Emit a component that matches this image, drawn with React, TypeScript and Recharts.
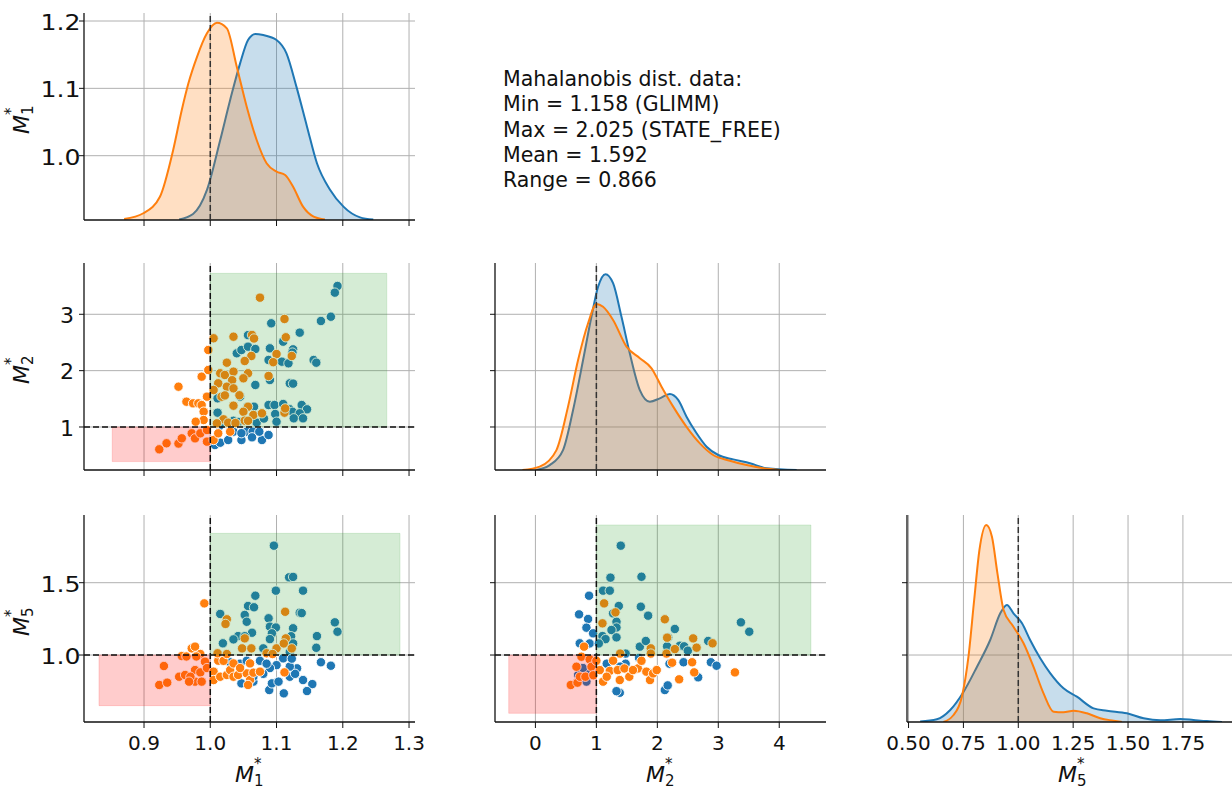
import React from 'react';
import {
  ScatterChart, Scatter, ComposedChart, Area, XAxis, YAxis, CartesianGrid,
  ReferenceLine, ReferenceArea,
} from 'recharts';

const BLUE = '#1f77b4';
const ORANGE = '#ff7f0e';
const GREEN = '#2ca02c';
const RED = '#ff0000';

// axis ticks for each metric
const m1Ticks = [0.9, 1.0, 1.1, 1.2, 1.3];
const m1RowTicks = [1.0, 1.1, 1.2];
const m2Ticks = [0, 1, 2, 3, 4];
const m2RowTicks = [1, 2, 3];
const m5Ticks = [0.5, 0.75, 1.0, 1.25, 1.5, 1.75];
const m5RowTicks = [1.0, 1.5];

// axis limits
const m1X: [number, number] = [0.8094, 1.309];
const m2X: [number, number] = [-0.663, 4.767];
const m5X: [number, number] = [0.493, 2.001];
const m1Y: [number, number] = [0.9045, 1.2119];
const m2Y: [number, number] = [0.237, 3.91];
const m5Y: [number, number] = [0.537, 1.968];

// kernel density estimates, [value, density]
const kdeM1Blue = [[0.953, 0.03], [0.974, 0.3], [0.995, 1.51], [1.015, 4.02], [1.03, 6.03], [1.045, 7.87], [1.057, 9.04], [1.068, 9.35], [1.08, 9.29], [1.1, 9.04], [1.115, 8.37], [1.13, 6.7], [1.146, 4.69], [1.161, 2.85], [1.181, 1.51], [1.201, 0.67], [1.226, 0.13], [1.246, 0.02]];
const kdeM1Orange = [[0.87, 0.05], [0.899, 0.34], [0.924, 1.17], [0.944, 3.52], [0.957, 5.53], [0.967, 6.87], [0.98, 8.2], [0.995, 9.38], [1.01, 9.91], [1.025, 9.63], [1.04, 7.7], [1.055, 5.69], [1.07, 4.02], [1.085, 2.85], [1.1, 2.43], [1.113, 2.26], [1.125, 1.67], [1.14, 0.67], [1.156, 0.17], [1.173, 0.03]];
const kdeM2Blue = [[0.016, 0.0], [0.235, 0.019], [0.453, 0.077], [0.618, 0.232], [0.782, 0.425], [0.919, 0.592], [1.028, 0.708], [1.149, 0.757], [1.274, 0.722], [1.412, 0.592], [1.548, 0.451], [1.713, 0.309], [1.877, 0.264], [2.041, 0.277], [2.205, 0.294], [2.342, 0.271], [2.479, 0.206], [2.644, 0.142], [2.808, 0.09], [2.999, 0.058], [3.245, 0.041], [3.519, 0.026], [3.793, 0.007], [4.286, 0.0]];
const kdeM2Orange = [[-0.213, 0.0], [0.071, 0.013], [0.345, 0.077], [0.535, 0.245], [0.7, 0.425], [0.864, 0.567], [1.002, 0.642], [1.11, 0.631], [1.274, 0.58], [1.494, 0.477], [1.713, 0.432], [1.905, 0.393], [2.069, 0.322], [2.26, 0.245], [2.479, 0.167], [2.698, 0.103], [2.916, 0.058], [3.19, 0.036], [3.465, 0.019], [3.737, 0.007], [4.01, 0.0]];
const kdeM5Blue = [[0.553, 0.01], [0.629, 0.06], [0.69, 0.267], [0.751, 0.673], [0.812, 1.229], [0.872, 1.822], [0.918, 2.415], [0.948, 2.6], [0.978, 2.415], [1.017, 2.193], [1.054, 1.822], [1.1, 1.416], [1.146, 1.082], [1.206, 0.749], [1.267, 0.562], [1.343, 0.304], [1.404, 0.251], [1.495, 0.193], [1.571, 0.082], [1.647, 0.038], [1.738, 0.067], [1.798, 0.044], [1.859, 0.02], [1.928, 0.0]];
const kdeM5Orange = [[0.659, 0.0], [0.705, 0.156], [0.743, 0.562], [0.773, 1.451], [0.799, 2.711], [0.823, 3.822], [0.854, 4.378], [0.88, 4.118], [0.905, 3.304], [0.933, 2.489], [0.978, 2.118], [1.024, 1.749], [1.069, 1.229], [1.115, 0.638], [1.161, 0.229], [1.206, 0.216], [1.252, 0.251], [1.313, 0.193], [1.373, 0.082], [1.434, 0.029], [1.472, 0.0]];

// scatter samples, [x, y]
const m1m2Blue = [[1.192, 3.502], [1.188, 3.384], [1.182, 2.957], [1.167, 2.881], [1.135, 2.674], [1.092, 2.84], [1.11, 2.514], [1.057, 2.63], [1.04, 2.308], [1.047, 2.366], [1.057, 2.425], [1.068, 2.384], [1.09, 2.396], [1.088, 2.189], [1.108, 2.159], [1.118, 2.13], [1.125, 2.378], [1.124, 2.32], [1.156, 2.189], [1.16, 2.141], [1.09, 1.834], [1.068, 1.746], [1.12, 1.775], [1.125, 1.77], [1.011, 1.509], [1.045, 1.538], [1.056, 1.36], [1.088, 1.39], [1.097, 1.39], [1.11, 1.408], [1.12, 1.314], [1.138, 1.39], [1.146, 1.314], [1.011, 1.254], [1.098, 1.231], [1.124, 1.27], [1.135, 1.243], [1.126, 1.154], [1.14, 1.154], [1.1, 1.094], [1.035, 1.11], [1.042, 1.09], [1.07, 1.077], [1.014, 1.02], [1.081, 1.15], [1.066, 1.36], [1.007, 0.68], [1.015, 0.721], [1.027, 0.769], [1.047, 0.769], [1.055, 0.917], [1.064, 0.917], [1.063, 0.817], [1.078, 0.769], [1.088, 0.858], [1.074, 0.917], [1.035, 0.917], [1.047, 0.89]];
const m1m2Orange = [[0.923, 0.604], [0.934, 0.711], [0.952, 0.706], [0.957, 0.799], [0.972, 0.888], [0.977, 0.799], [0.985, 0.888], [0.995, 0.74], [0.995, 0.947], [0.952, 1.715], [0.964, 1.449], [0.974, 1.42], [0.982, 1.42], [0.987, 1.39], [0.987, 1.893], [0.995, 1.538], [0.99, 1.272], [0.99, 1.124], [0.978, 1.094], [0.997, 2.366], [0.997, 2.011], [1.005, 2.574], [1.005, 0.769], [1.012, 0.888], [1.03, 0.917], [1.075, 3.295], [1.112, 2.917], [1.114, 2.592], [1.035, 2.602], [1.063, 2.633], [1.066, 2.57], [1.062, 2.26], [1.052, 2.171], [1.025, 2.141], [1.1, 2.295], [1.095, 2.15], [1.123, 2.26], [1.015, 1.953], [1.022, 1.923], [1.035, 1.982], [1.057, 1.953], [1.05, 1.864], [1.033, 1.83], [1.088, 1.905], [1.012, 1.775], [1.025, 1.715], [1.035, 1.686], [1.005, 1.657], [1.017, 1.538], [1.022, 1.56], [1.044, 1.563], [1.035, 1.378], [1.057, 1.36], [1.05, 1.27], [1.065, 1.213], [1.078, 1.243], [1.02, 1.136], [1.01, 1.065], [1.027, 1.077], [1.052, 1.112], [1.057, 1.11], [1.112, 1.254], [1.113, 1.33], [1.038, 1.07]];
const m1m5Blue = [[1.096, 1.756], [1.119, 1.537], [1.125, 1.54], [1.099, 1.445], [1.14, 1.445], [1.068, 1.41], [1.057, 1.339], [1.066, 1.33], [1.052, 1.277], [1.055, 1.23], [1.015, 1.284], [1.088, 1.254], [1.135, 1.292], [1.138, 1.29], [1.09, 1.196], [1.099, 1.19], [1.125, 1.185], [1.063, 1.154], [1.093, 1.15], [1.042, 1.131], [1.052, 1.13], [1.035, 1.108], [1.188, 1.226], [1.192, 1.161], [1.161, 1.131], [1.16, 1.05], [1.019, 1.081], [1.09, 1.11], [1.122, 1.13], [1.125, 1.08], [1.08, 1.046], [1.12, 1.02], [1.167, 0.95], [1.182, 0.926], [1.131, 0.908], [1.14, 0.827], [1.154, 0.799], [1.146, 0.751], [1.111, 0.735], [1.089, 0.758], [1.093, 0.804], [1.103, 0.816], [1.12, 0.85], [1.128, 0.87], [1.12, 0.92], [1.11, 0.977], [1.1, 0.93], [1.09, 0.91], [1.08, 0.87], [1.065, 0.816], [1.065, 0.85], [1.047, 0.804], [1.045, 0.94], [1.055, 0.96], [1.075, 0.96], [1.123, 0.975], [1.085, 0.94], [1.03, 0.95]];
const m1m5Orange = [[0.923, 0.793], [0.935, 0.809], [0.93, 0.924], [0.953, 0.85], [0.957, 0.993], [0.964, 0.99], [0.972, 1.046], [0.977, 1.058], [0.962, 0.862], [0.977, 0.896], [0.985, 0.88], [0.977, 0.816], [0.987, 0.816], [0.985, 1.007], [0.979, 0.99], [0.991, 1.357], [0.992, 0.954], [0.995, 0.91], [0.97, 0.85], [0.968, 0.816], [1.012, 0.961], [1.005, 0.885], [1.005, 0.827], [1.015, 0.85], [1.025, 0.862], [1.03, 0.896], [1.035, 0.85], [1.042, 0.862], [1.055, 0.873], [1.06, 0.827], [1.057, 0.793], [1.065, 0.878], [1.075, 0.885], [1.06, 0.942], [1.035, 0.942], [1.02, 0.96], [1.112, 0.88], [1.045, 0.91], [1.113, 1.299], [1.025, 1.247], [1.023, 1.215], [1.052, 1.115], [1.048, 1.046], [1.062, 1.046], [1.1, 1.046], [1.114, 1.115], [1.111, 1.08], [1.123, 1.046], [1.085, 1.012], [1.094, 1.007], [1.011, 1.012], [1.025, 1.007]];
const m2m5Blue = [[0.716, 1.281], [0.88, 1.41], [0.864, 1.249], [0.837, 1.189], [0.946, 1.15], [0.727, 1.081], [0.89, 1.08], [0.7, 0.862], [0.837, 0.816], [0.86, 0.87], [0.78, 0.91], [1.4, 1.756], [1.231, 1.535], [1.74, 1.541], [1.11, 1.445], [1.22, 1.445], [1.368, 1.339], [1.274, 1.288], [1.729, 1.334], [1.849, 1.272], [1.33, 1.23], [1.33, 1.19], [1.248, 1.173], [1.1, 1.131], [1.33, 1.122], [1.15, 1.11], [1.04, 1.08], [1.713, 1.058], [1.811, 1.097], [2.287, 1.18], [2.178, 1.122], [2.16, 1.06], [2.369, 1.064], [2.44, 1.06], [2.834, 1.097], [3.371, 1.226], [3.508, 1.161], [2.5, 1.03], [1.48, 1.01], [1.384, 0.739], [1.33, 0.75], [2.123, 0.758], [2.17, 0.79], [2.67, 0.846], [2.878, 0.95], [2.972, 0.926], [2.43, 0.95], [2.2, 0.94], [1.48, 0.94], [1.7, 0.98], [1.39, 0.92], [1.17, 0.94]];
const m2m5Orange = [[1.127, 1.357], [1.313, 1.295], [1.1, 1.219], [2.123, 1.247], [2.161, 1.12], [2.588, 1.115], [2.644, 1.051], [2.287, 1.041], [2.906, 1.081], [1.893, 1.046], [1.893, 1.01], [1.39, 1.01], [2.15, 1.01], [0.798, 1.058], [0.58, 0.793], [0.69, 0.809], [0.673, 0.919], [0.755, 0.988], [0.73, 0.85], [0.82, 0.85], [0.89, 0.97], [0.92, 0.919], [0.95, 0.86], [1.0, 0.96], [1.056, 0.896], [1.11, 0.816], [1.22, 0.89], [1.274, 0.961], [1.35, 0.896], [1.384, 0.827], [1.46, 0.907], [1.54, 0.85], [1.68, 0.907], [1.74, 0.96], [1.82, 0.885], [1.88, 0.827], [1.93, 0.873], [1.99, 0.896], [2.243, 0.947], [2.358, 0.832], [2.571, 0.95], [2.605, 0.88], [3.273, 0.88], [1.17, 0.85], [1.6, 0.896]];

// good / bad regions: [x1, y1, x2, y2]
const m1m2Good = [1, 1, 1.2664, 3.726];
const m1m2Bad = [0.852, 0.386, 1, 1];
const m1m5Good = [1, 1, 1.2864, 1.841];
const m1m5Bad = [0.832, 0.65, 1, 1];
const m2m5Good = [1, 1, 4.52, 1.899];
const m2m5Bad = [-0.438, 0.597, 1, 1];

const statLines = [
  'Mahalanobis dist. data:',
  'Min = 1.158 (GLIMM)',
  'Max = 2.025 (STATE_FREE)',
  'Mean = 1.592',
  'Range = 0.866',
];

const COL_X = [84, 495, 907];
const ROW_Y = [13, 263, 515];
const PW = 331;
const PH = 207;
const YW = 70;
const XH = 45;
const MT = 5;
const MR = 24;

const toXY = (arr: number[][]) => arr.map(([x, y]) => ({ x, y }));

const dot = (fill: string) => (p: any) => (
  <circle cx={p.cx} cy={p.cy} r={4.7} fill={fill} stroke="#fff" strokeWidth={0.9} />
);

const fmt1 = (v: number) => v.toFixed(1);
const fmt0 = (v: number) => String(v);
const fmt2 = (v: number) => v.toFixed(2);

// tick mark only, no label (keeps the grid in sync)
const noLabel = () => <g />;

const yTick = (fmt: (v: number) => string, shift: number, sx: number) => (p: any) => (
  <text
    transform={`translate(${p.x + shift},${p.y}) scale(${sx},1)`}
    textAnchor="end" dy="0.42em" fontSize={21} fill="#111"
  >
    {fmt(p.payload.value)}
  </text>
);

const axisLine = { stroke: '#111', strokeWidth: 1.3 };
const tickLine = { stroke: '#111', strokeWidth: 1 };
const xTickStyle = { fill: '#111', fontSize: 20 };

type ScatterProps = {
  col: number; row: number;
  xDomain: [number, number]; yDomain: [number, number];
  xTicks: number[]; yTicks: number[];
  xFmt: (v: number) => string; yFmt: (v: number) => string;
  showX: boolean; showY: boolean; ySx: number; yShift: number;
  blue: number[][]; orange: number[][];
  good: number[]; bad: number[];
};

function ScatterPanel(props: ScatterProps) {
  const { col, row, xDomain, yDomain, xTicks, yTicks, xFmt, yFmt, showX, showY, blue, orange, good, bad } = props;
  return (
    <div style={{ position: 'absolute', left: COL_X[col] - YW, top: ROW_Y[row] - MT }}>
      <ScatterChart width={YW + PW + MR} height={MT + PH + XH} margin={{ top: MT, right: MR, bottom: 0, left: 0 }}>
        <CartesianGrid stroke="#b0b0b0" strokeWidth={1} syncWithTicks />
        <XAxis type="number" dataKey="x" domain={xDomain} ticks={xTicks} allowDataOverflow
          height={XH} tickSize={6} tickMargin={8} axisLine={axisLine} tickLine={tickLine}
          tick={showX ? xTickStyle : noLabel} tickFormatter={xFmt} />
        <YAxis type="number" dataKey="y" domain={yDomain} ticks={yTicks} allowDataOverflow
          width={YW} tickSize={5} tickMargin={5} axisLine={axisLine} tickLine={tickLine}
          tick={showY ? yTick(yFmt, props.yShift, props.ySx) : noLabel} />
        <Scatter data={toXY(blue)} shape={dot(BLUE)} isAnimationActive={false} />
        <Scatter data={toXY(orange)} shape={dot(ORANGE)} isAnimationActive={false} />
        <ReferenceArea x1={good[0]} y1={good[1]} x2={good[2]} y2={good[3]} fill={GREEN} fillOpacity={0.2}
          stroke={GREEN} strokeOpacity={0.15} zIndex={700} isFront />
        <ReferenceArea x1={bad[0]} y1={bad[1]} x2={bad[2]} y2={bad[3]} fill={RED} fillOpacity={0.2}
          stroke={RED} strokeOpacity={0.15} zIndex={700} isFront />
        <ReferenceLine x={1} stroke="#111" strokeWidth={1.5} strokeDasharray="6 3" zIndex={800} isFront />
        <ReferenceLine y={1} stroke="#111" strokeWidth={1.5} strokeDasharray="6 3" zIndex={800} isFront />
      </ScatterChart>
    </div>
  );
}

type KdeProps = {
  col: number; row: number;
  xDomain: [number, number]; yDomain: [number, number];
  xTicks: number[]; yTicks: number[];
  xFmt: (v: number) => string; yFmt: (v: number) => string;
  showX: boolean; showY: boolean; ySx: number; yShift: number;
  densMax: number; blue: number[][]; orange: number[][];
};

function KdePanel(props: KdeProps) {
  const { col, row, xDomain, yDomain, xTicks, yTicks, xFmt, yFmt, showX, showY, densMax, blue, orange } = props;
  return (
    <div style={{ position: 'absolute', left: COL_X[col] - YW, top: ROW_Y[row] - MT }}>
      <ComposedChart width={YW + PW + MR} height={MT + PH + XH} margin={{ top: MT, right: MR, bottom: 0, left: 0 }}>
        <CartesianGrid stroke="#b0b0b0" strokeWidth={1} syncWithTicks />
        <XAxis type="number" dataKey="x" domain={xDomain} ticks={xTicks} allowDataOverflow
          height={XH} tickSize={6} tickMargin={8} axisLine={axisLine} tickLine={tickLine}
          tick={showX ? xTickStyle : noLabel} tickFormatter={xFmt} />
        <YAxis type="number" domain={yDomain} ticks={yTicks} allowDataOverflow
          width={YW} tickSize={5} tickMargin={5} axisLine={axisLine} tickLine={tickLine}
          tick={showY ? yTick(yFmt, props.yShift, props.ySx) : noLabel} />
        <YAxis yAxisId="d" type="number" domain={[0, densMax]} allowDataOverflow hide />
        <Area yAxisId="d" data={toXY(blue)} dataKey="y" type="monotone" stroke={BLUE} strokeWidth={2}
          fill={BLUE} fillOpacity={0.25} isAnimationActive={false} dot={false} activeDot={false} />
        <Area yAxisId="d" data={toXY(orange)} dataKey="y" type="monotone" stroke={ORANGE} strokeWidth={2}
          fill={ORANGE} fillOpacity={0.25} isAnimationActive={false} dot={false} activeDot={false} />
        <ReferenceLine x={1} stroke="#333" strokeWidth={1.5} strokeDasharray="6 3" zIndex={800} isFront />
      </ComposedChart>
    </div>
  );
}

function MLabel({ x, y, sub, vertical }: { x: number; y: number; sub: string; vertical?: boolean }) {
  return (
    <text x={x} y={y} fontSize={22} fill="#111" transform={vertical ? `rotate(-90 ${x} ${y})` : undefined}>
      <tspan fontStyle="italic">M</tspan>
      <tspan fontSize={15} dy={4}>{sub}</tspan>
      <tspan fontSize={15} dx={-9.5} dy={-17}>*</tspan>
    </text>
  );
}

export default function App() {
  return (
    <div style={{ position: 'absolute', left: 0, top: 0, width: 1232, height: 789, overflow: 'hidden', background: '#fff', fontFamily: 'DejaVu Sans' }}>
      <KdePanel col={0} row={0} xDomain={m1X} yDomain={m1Y} xTicks={m1Ticks} yTicks={m1RowTicks}
        xFmt={fmt1} yFmt={fmt1} showX={false} showY ySx={1.2} yShift={6.5}
        densMax={10.4} blue={kdeM1Blue} orange={kdeM1Orange} />
      <ScatterPanel col={0} row={1} xDomain={m1X} yDomain={m2Y} xTicks={m1Ticks} yTicks={m2RowTicks}
        xFmt={fmt1} yFmt={fmt0} showX={false} showY ySx={1.05} yShift={0}
        blue={m1m2Blue} orange={m1m2Orange} good={m1m2Good} bad={m1m2Bad} />
      <KdePanel col={1} row={1} xDomain={m2X} yDomain={m2Y} xTicks={m2Ticks} yTicks={m2RowTicks}
        xFmt={fmt0} yFmt={fmt0} showX={false} showY={false} ySx={1} yShift={0}
        densMax={0.8} blue={kdeM2Blue} orange={kdeM2Orange} />
      <ScatterPanel col={0} row={2} xDomain={m1X} yDomain={m5Y} xTicks={m1Ticks} yTicks={m5RowTicks}
        xFmt={fmt1} yFmt={fmt1} showX showY ySx={1.2} yShift={6.5}
        blue={m1m5Blue} orange={m1m5Orange} good={m1m5Good} bad={m1m5Bad} />
      <ScatterPanel col={1} row={2} xDomain={m2X} yDomain={m5Y} xTicks={m2Ticks} yTicks={m5RowTicks}
        xFmt={fmt0} yFmt={fmt1} showX showY={false} ySx={1} yShift={0}
        blue={m2m5Blue} orange={m2m5Orange} good={m2m5Good} bad={m2m5Bad} />
      <KdePanel col={2} row={2} xDomain={m5X} yDomain={m5Y} xTicks={m5Ticks} yTicks={m5RowTicks}
        xFmt={fmt2} yFmt={fmt1} showX showY={false} ySx={1} yShift={0}
        densMax={4.6} blue={kdeM5Blue} orange={kdeM5Orange} />
      <svg width={1232} height={789} style={{ position: 'absolute', left: 0, top: 0, pointerEvents: 'none' }}>
        <MLabel x={29} y={134} sub="1" vertical />
        <MLabel x={29} y={384} sub="2" vertical />
        <MLabel x={29} y={636} sub="5" vertical />
        <MLabel x={235} y={782} sub="1" />
        <MLabel x={646} y={782} sub="2" />
        <MLabel x={1058} y={782} sub="5" />
        <text x={503} y={86} fontSize={20.5} fill="#111">
          {statLines.map((s, i) => (
            <tspan key={i} x={503} dy={i === 0 ? 0 : 25.3}>{s}</tspan>
          ))}
        </text>
      </svg>
    </div>
  );
}
